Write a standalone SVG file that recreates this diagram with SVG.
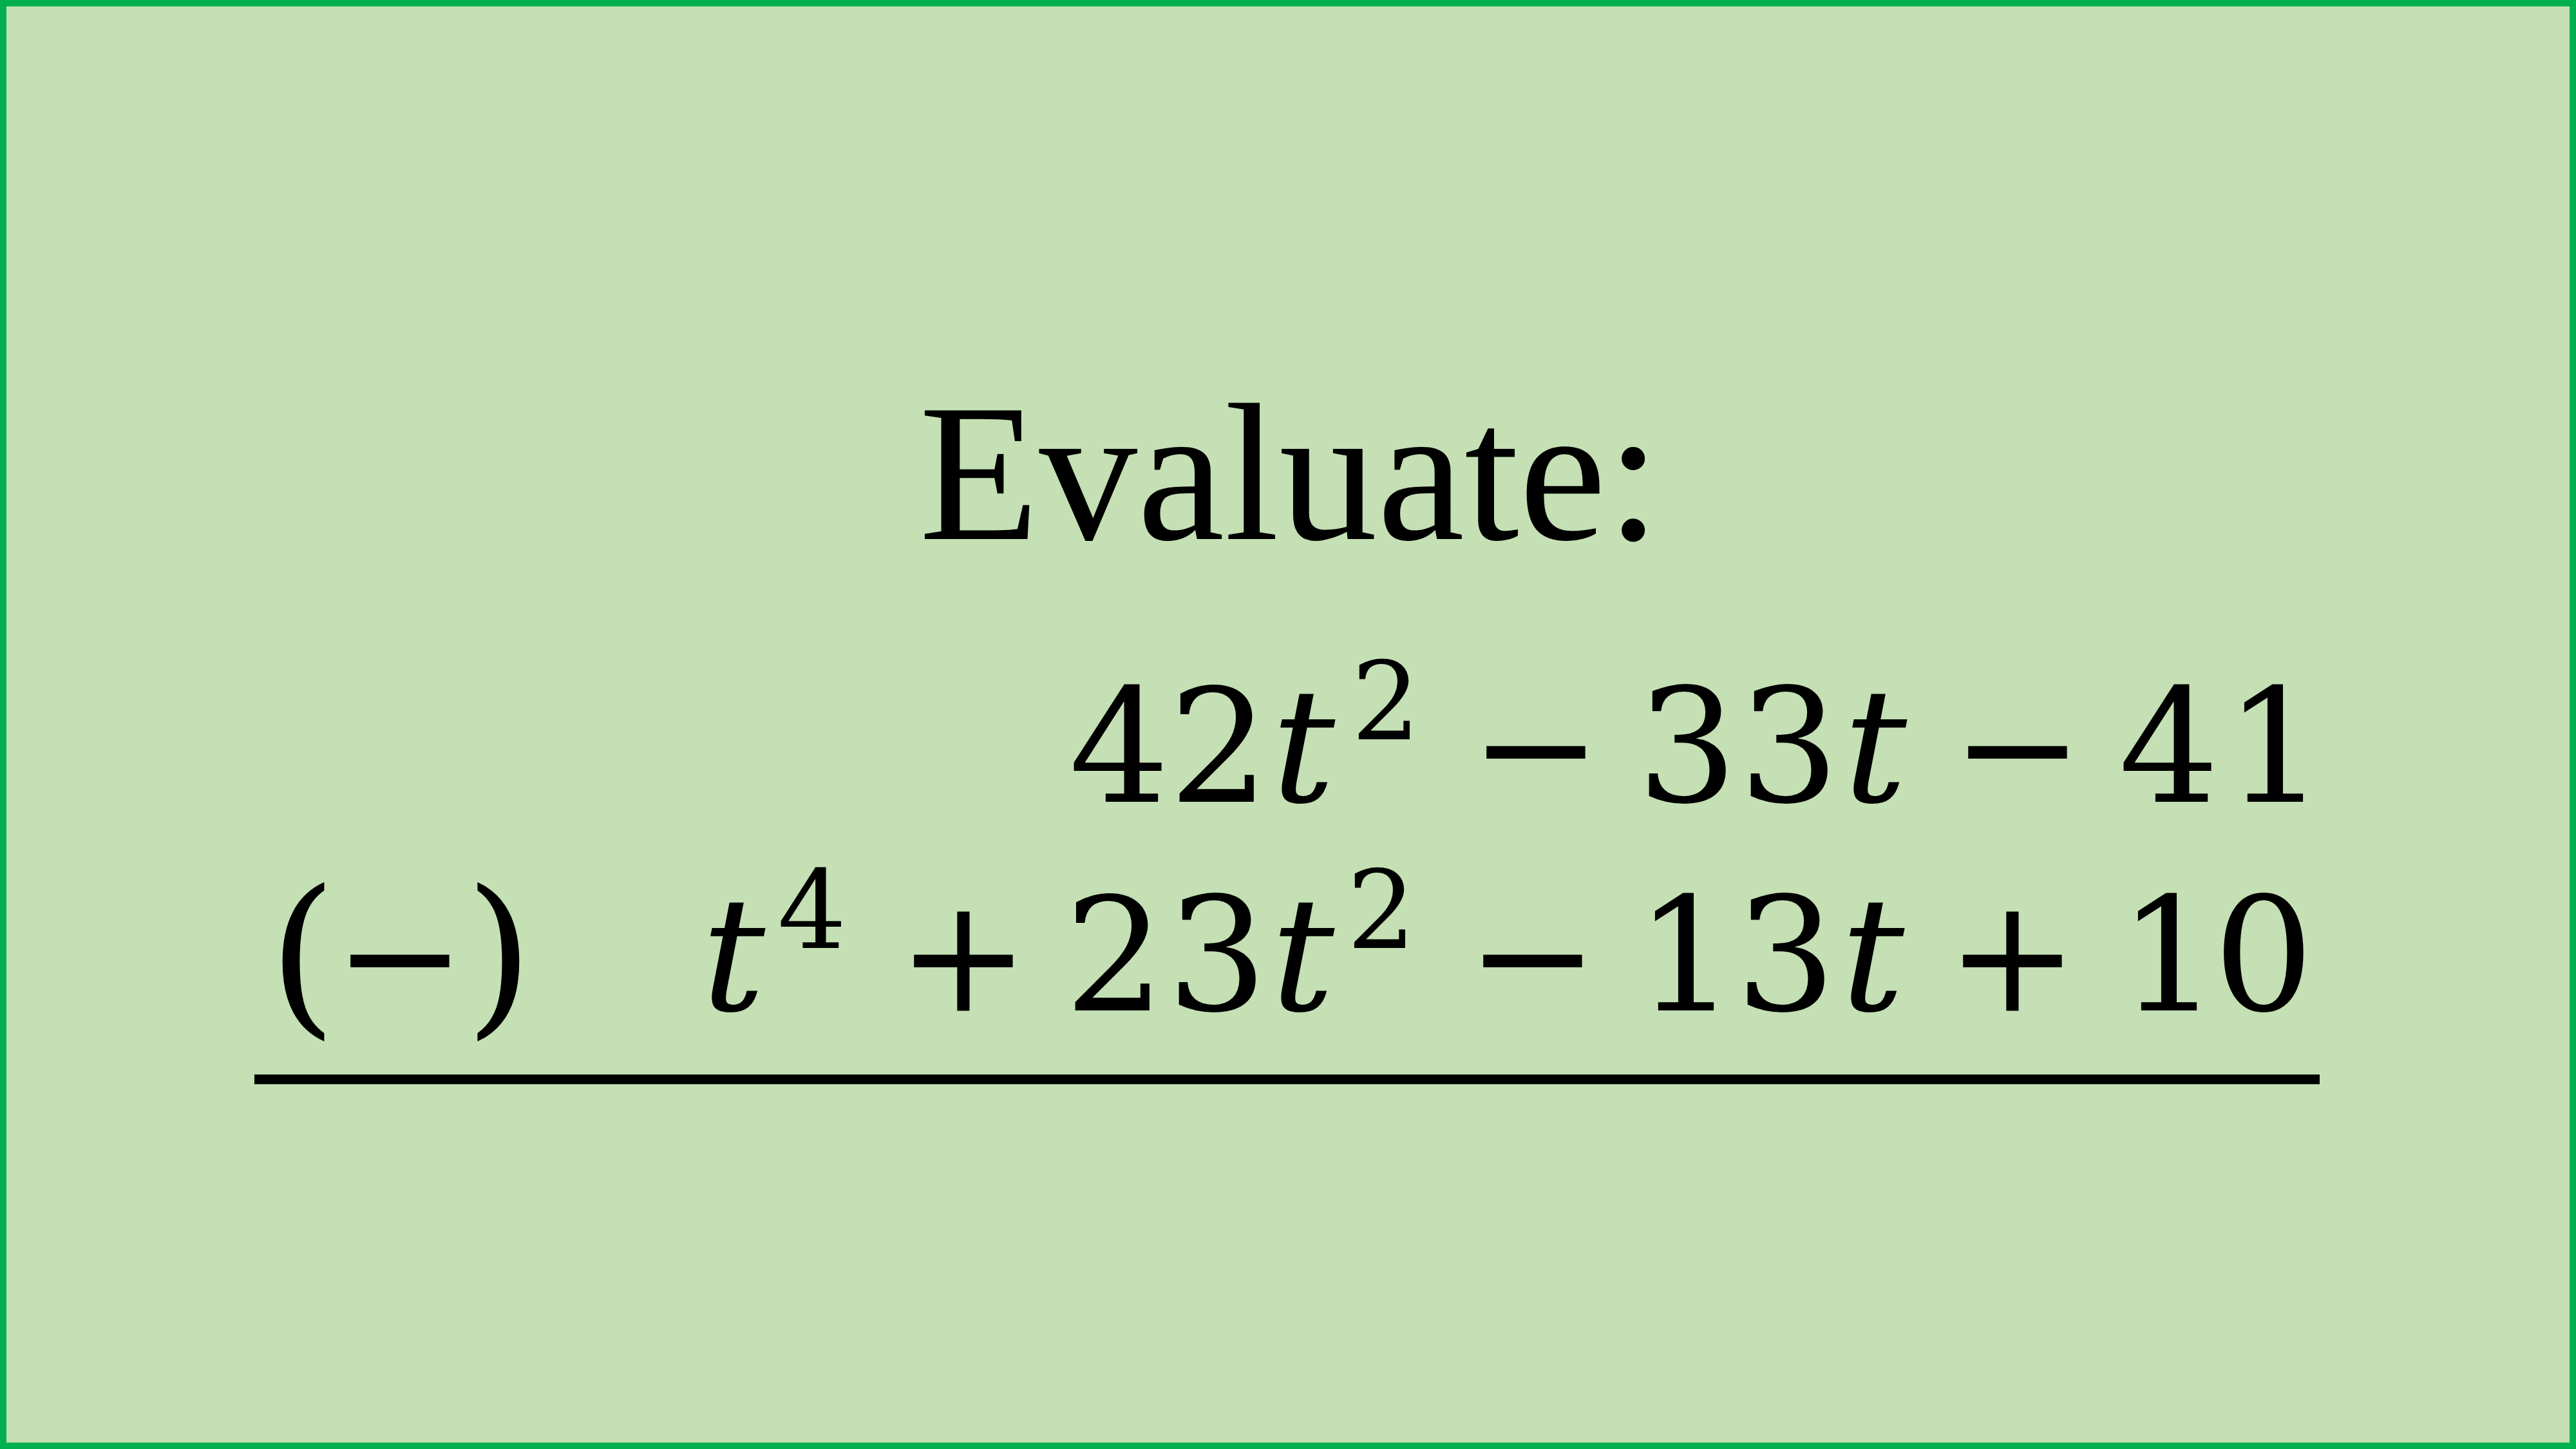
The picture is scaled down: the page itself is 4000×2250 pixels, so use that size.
<svg xmlns="http://www.w3.org/2000/svg" width="4000" height="2250" viewBox="0 0 4000 2250">
<style>
.m{font-family:"DejaVu Serif","Liberation Serif",serif;font-size:245px;fill:#000;text-anchor:middle}
.i{font-style:italic}
.s{font-size:168px}
.p{font-size:270px}
.h{font-family:"Liberation Serif","DejaVu Serif",serif;font-size:305px;fill:#000;text-anchor:middle}
</style>
<g id="frame"><rect x="5" y="5" width="3990" height="2240" fill="#C5E0B4" stroke="#00B050" stroke-width="10"/></g>
<g id="title"><text class="h" x="2003" y="837">Evaluate:</text></g>
<g id="row1">
<text class="m" x="1738" y="1245">4</text>
<text class="m" x="1893" y="1245">2</text>
<text class="m i" x="2024" y="1245">t</text>
<text class="m s" x="2152" y="1148">2</text>
<text class="m" x="2385" y="1245">−</text>
<text class="m" x="2620" y="1245">3</text>
<text class="m" x="2778" y="1245">3</text>
<text class="m i" x="2912" y="1245">t</text>
<text class="m" x="3133" y="1245">−</text>
<text class="m" x="3368" y="1245">4</text>
<text class="m" x="3533" y="1245">1</text>
</g>
<g id="row2">
<text class="m p" x="470" y="1575">(</text>
<text class="m" x="621" y="1569">−</text>
<text class="m p" x="775" y="1575">)</text>
<text class="m i" x="1139" y="1569">t</text>
<text class="m s" x="1261" y="1472">4</text>
<text class="m" x="1496" y="1569">+</text>
<text class="m" x="1731" y="1569">2</text>
<text class="m" x="1890" y="1569">3</text>
<text class="m i" x="2023" y="1569">t</text>
<text class="m s" x="2145" y="1472">2</text>
<text class="m" x="2380" y="1569">−</text>
<text class="m" x="2618" y="1569">1</text>
<text class="m" x="2773" y="1569">3</text>
<text class="m i" x="2908" y="1569">t</text>
<text class="m" x="3125" y="1569">+</text>
<text class="m" x="3368" y="1569">1</text>
<text class="m" x="3515" y="1569">0</text>
</g>
<g id="connectors"><line x1="395" y1="1676" x2="3602" y2="1676" stroke="#000" stroke-width="15"/></g>
</svg>
